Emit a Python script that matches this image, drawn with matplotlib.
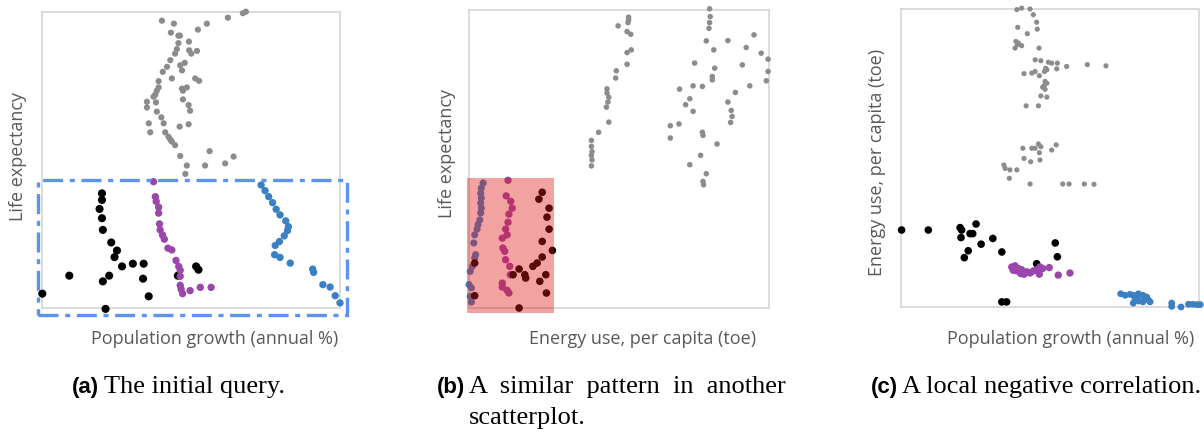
import numpy as np
import matplotlib
matplotlib.use("Agg")
import matplotlib.pyplot as plt
from matplotlib.patches import Rectangle

# colours of the four groups
GRAY = "#8c8c8c"
BLACK = "#000000"
PURPLE = "#9a46aa"
BLUE = "#3a80c2"
LABEL = "#595959"

# ---- panel (a): population growth vs life expectancy ----
a_gray = [(68, 99), (67, 98.5), (62, 97), (55, 95), (52, 93), (40, 96), (44, 95),
          (43, 92), (45.5, 91), (46, 91), (49, 89), (45.5, 88.5), (45, 86.5),
          (49.1, 86.1), (49.8, 85), (51.7, 85.9), (44.4, 85), (42.8, 82.8),
          (47.6, 81.9), (46.1, 81.1), (46.7, 79.4), (41.7, 80.6), (40.3, 78.9),
          (43.3, 76.7), (51.1, 76.7), (52.4, 75.9), (38.9, 75.8), (38.9, 73.7),
          (38.3, 72.6), (37.8, 71.3), (37.2, 70.6), (46.7, 73.3), (48.3, 73.7),
          (47, 72.6), (35, 68.9), (35, 67), (38, 68.7), (47, 69.7), (48.9, 67.8),
          (49.4, 65.9), (38.3, 65.6), (39.8, 63.7), (35.6, 61.7), (40.6, 61.7),
          (45.9, 60.6), (48.9, 61.4), (36.1, 58.7), (41.1, 58.7), (42.2, 57.2),
          (42.8, 56.3), (43.3, 55.6), (44.4, 54.4), (55.9, 52.4), (46.1, 50.8),
          (63.9, 50.6), (61.1, 48.3), (48.3, 47.6), (54.4, 47.6), (47.8, 44.8)]
a_black = [(20, 38.3), (20, 36.1), (19.2, 33.1), (20, 30), (20.3, 26.1), (23.1, 21.9),
           (25, 19.2), (24.2, 17), (26.7, 13.9), (30.3, 14.8), (33.9, 14.8),
           (9.1, 10.8), (22.4, 10.8), (20.3, 8.9), (33.7, 9.8), (45.3, 10.8),
           (51.4, 13.9), (52.2, 12.8), (0.1, 4.8), (35.6, 3.9), (21.2, -0.3)]
a_purple = [(37.2, 42.2), (37.8, 37.2), (38.1, 35.6), (38.9, 33.7), (38.9, 31.7),
            (39.2, 28.1), (39.4, 26.1), (40.2, 24.4), (40.8, 23), (42, 20),
            (43.3, 19.4), (44.7, 15.9), (45.6, 13.9), (46.1, 12.6), (46.1, 10.6),
            (46.1, 7.6), (46.4, 6.3), (46.9, 4.8), (49.4, 5.8), (52.8, 6.9), (56.4, 6.9)]
a_blue = [(73.1, 41.1), (74.4, 39.2), (75.6, 37.2), (76.9, 35.2), (78.1, 33),
          (79.4, 31.1), (81.3, 29.1), (82.2, 27.2), (81.9, 25.9), (80.8, 24.1),
          (79.2, 22.2), (77.8, 20.9), (77.6, 17.8), (79.4, 16.9), (82.8, 15),
          (90.3, 13), (90.6, 11.9), (93.7, 7.8), (96.1, 7), (97.8, 4.1), (99.4, 1.7)]

# ---- panel (b): energy use vs life expectancy ----
b_gray = [(53.2, 97), (53.2, 96.1), (53, 95.2), (49.7, 94.1), (52.7, 92.2), (53.9, 91.3),
          (54.1, 86.1), (52.7, 85.2), (52.7, 81.3), (49.1, 79.1), (48.9, 76.7),
          (46, 73.1), (46, 71.7), (46.6, 70.3), (46.3, 68.7), (45.8, 67), (46.6, 62),
          (43.2, 58.6), (40.8, 55.9), (40.8, 53.9), (41, 52.2), (40.8, 50.9),
          (41, 49.4), (40.8, 47.4),
          (80.2, 99.8), (80.4, 97.2), (80.2, 95.2), (80, 93.3), (79.1, 89.1),
          (81.6, 86.1), (86.3, 89.2), (95, 91.1), (92.4, 86.9), (97.4, 85),
          (99.7, 83), (91.1, 81.1), (99.7, 78.9), (99.1, 75.8), (75.2, 81.7),
          (81.9, 80), (81.1, 77.2), (81.1, 76.1), (74.7, 74.1), (77.8, 73.9),
          (70.2, 73), (93.6, 74.1), (88.8, 71.9), (73.6, 69.8), (86.3, 68.7),
          (72.2, 67.8), (74.7, 65.6), (87.4, 65.9), (87.7, 63.9), (87.2, 61.9),
          (67.1, 60.8), (70, 61.4), (67.1, 56.7), (77.8, 58.6), (78, 57.6),
          (82.7, 54.7), (77.2, 50.9), (73.6, 47.8), (79.1, 44.8), (78, 42.2), (78.2, 41.1)]
b_blue = [(4.7, 41.7), (4.1, 40), (3.9, 38.3), (4.1, 36.7), (3.9, 35), (4.1, 33.3),
          (3.9, 31.7), (3.6, 29.4), (3, 27.8), (2.7, 26.3), (1.9, 24.4), (1.6, 21.7),
          (2.2, 17.8), (1.9, 16.7), (1.1, 13.9), (0.4, 12.2), (0, 7.8), (0.8, 6.7),
          (0.4, 3.9), (0.8, 2)]
b_purple = [(13, 42.6), (12.4, 37.4), (13.9, 35.6), (14.4, 33.3), (13.3, 31.3),
            (13, 28.6), (12.2, 26.3), (12.7, 24.4), (11.1, 23.3), (11.3, 20),
            (11.9, 18.9), (12.2, 16.1), (13.6, 13.9), (13.8, 11.1), (11.1, 8.3),
            (11.1, 7), (12.7, 5.9), (13.3, 5)]
b_black = [(24.4, 38.6), (23.3, 36.3), (26.7, 33.3), (26, 30.3), (26.7, 26.3),
           (24.4, 22.2), (27.8, 19.2), (24.4, 17), (22.7, 15), (21.3, 13.9),
           (16.7, 13), (14.7, 11.1), (18.6, 11.1), (18.9, 10), (25.6, 11.1),
           (23.6, 8.9), (1.9, 15), (1.9, 4.1), (25.8, 5), (16.7, 0)]

# ---- panel (c): population growth vs energy use ----
c_gray = [(38.6, 98.9), (40.2, 99.4), (43, 99.1), (44.1, 97.2), (45.2, 94.7),
          (45.4, 92.4), (38.9, 93), (42.1, 90.9), (38.3, 88.3), (39.1, 87.8),
          (40.2, 86.9), (38, 86.1), (38.8, 87.2), (46, 86.1), (44.7, 82.2),
          (46.6, 81.9), (49.1, 81.4), (50.2, 81.1), (52.1, 81.1), (55.2, 80),
          (62.1, 80.6), (68.3, 80.2), (48.2, 79.4), (51.9, 79.2), (48.6, 78.9),
          (47.8, 78.3), (41, 77.6), (43.6, 77.8), (44.7, 78.3), (46.1, 76.9),
          (48, 75), (48.6, 74.4), (47.7, 73.6), (47.2, 73.1), (48, 72.4),
          (46.6, 70.2), (48.6, 69.8), (41.7, 66.9), (45.8, 66.9), (40.6, 52.8),
          (43.6, 52.8), (45.8, 54.2), (46.6, 53.3), (44.7, 52.8), (51.7, 53.9),
          (50.2, 52.2), (46.1, 51.3), (41, 49.4), (43.2, 48.3), (46.3, 48.9),
          (34.3, 47.2), (34.7, 46.1), (36.3, 45.6), (38.6, 45.6), (36.1, 42.8),
          (43, 40.9), (53.9, 40.9), (56, 40.9), (61.1, 40.9), (64.3, 40.8)]
c_black = [(0.2, 25.6), (9.1, 25.6), (19.7, 26.4), (20.2, 25.6), (25, 27.6),
           (23.9, 24.4), (23, 24.4), (20, 23.1), (30.6, 22.8), (26.7, 20.9),
           (22.4, 18.7), (33.6, 18.3), (21.1, 16.4), (51.4, 21.3), (52.1, 16.7),
           (45.2, 14.4), (33.6, 1.7), (35.2, 1.7)]
c_purple = [(36.9, 13.3), (38, 13.7), (39.1, 12.8), (37.4, 12.2), (38.6, 12),
            (39.9, 11.1), (41, 10.9), (41.9, 11.7), (43, 11.3), (44.1, 12),
            (45.4, 12.4), (46.3, 13.3), (47.2, 12.8), (46.1, 10.9), (49.4, 13.1),
            (52.4, 10.6), (56.3, 11.3), (40.2, 12.4), (41.3, 11.3)]
c_blue = [(73.2, 4.4), (74.7, 3.9), (76.3, 4.2), (77.4, 3.9), (79.1, 4.4), (80.6, 3.9),
          (81.9, 3.3), (82.4, 2.4), (83, 1.7), (78, 2.4), (79.1, 2), (80.6, 1.7),
          (77.4, 1.3), (81.3, 2.6), (78.8, 3), (90.2, 1.3), (90.2, 0.2), (93.3, 0),
          (95.8, 0.9), (97.2, 0.9), (98.6, 0.8), (99.7, 0.8)]

W, H = 1204, 436


def px_axes(fig, l, t, r, b):
    return fig.add_axes([l / W, 1 - b / H, (r - l) / W, (b - t) / H])


def style(ax, xmax, ymax):
    ax.set_xlim(0, xmax)
    ax.set_ylim(0, ymax)
    ax.set_xticks([])
    ax.set_yticks([])
    for s in ax.spines.values():
        s.set_color("#d6d6d6")
        s.set_linewidth(1.2)


def dots(ax, pts, color, size, z=3):
    p = np.array(pts)
    ax.scatter(p[:, 0], p[:, 1], s=size, color=color, edgecolors="none",
               clip_on=False, zorder=z)


fig = plt.figure(figsize=(W / 100, H / 100), dpi=100)

# (a)
ax = px_axes(fig, 42, 12, 340, 308)
style(ax, 99.4, 98.9)
dots(ax, a_gray, GRAY, 20)
dots(ax, a_black, BLACK, 34)
dots(ax, a_purple, PURPLE, 28)
dots(ax, a_blue, BLUE, 28)
ax.add_patch(Rectangle((-1.4, -2.2), 103.1, 45.0, fill=False, edgecolor="#5b93ee",
                       linewidth=2.4, linestyle=(0, (6, 2, 1.5, 2)), clip_on=False, zorder=4))

# (b)
ax = px_axes(fig, 469, 10, 769, 308)
style(ax, 100, 99.4)
dots(ax, b_gray, GRAY, 16)
dots(ax, b_blue, BLUE, 26)
dots(ax, b_purple, PURPLE, 28)
dots(ax, b_black, BLACK, 30)
ax.add_patch(Rectangle((-0.6, -1.7), 28.9, 45.0, facecolor=(0.89, 0.09, 0.09), alpha=0.4,
                       edgecolor="none", clip_on=False, zorder=5))

# (c)
ax = px_axes(fig, 901, 9, 1199, 307)
style(ax, 99.3, 99.1)
dots(ax, c_gray, GRAY, 14)
dots(ax, c_black, BLACK, 30)
dots(ax, c_purple, PURPLE, 28)
dots(ax, c_blue, BLUE, 24)

# axis labels
lab = dict(color=LABEL, fontsize=13, family="Open Sans", ha="center", va="center")
fig.text(18 / W, 1 - 156 / H, "Life expectancy", rotation=90, **lab)
fig.text(447 / W, 1 - 154 / H, "Life expectancy", rotation=90, **lab)
fig.text(877 / W, 1 - 162 / H, "Energy use, per capita (toe)", rotation=90, **lab)
fig.text(215 / W, 1 - 339 / H, "Population growth (annual %)", **lab)
fig.text(643 / W, 1 - 339 / H, "Energy use, per capita (toe)", **lab)
fig.text(1071 / W, 1 - 339 / H, "Population growth (annual %)", **lab)

# captions
tag = dict(fontsize=16, family="Liberation Sans", weight="bold", va="baseline", ha="right")
cap = dict(fontsize=19, family="Liberation Serif", va="baseline", ha="left")
fig.text(99 / W, 1 - 393 / H, "(a)", **tag)
fig.text(104 / W, 1 - 393 / H, "The initial query.", **cap)
fig.text(465 / W, 1 - 393 / H, "(b)", **tag)
fig.text(469 / W, 1 - 393 / H, "A  similar  pattern  in  another", **cap)
fig.text(469 / W, 1 - 424 / H, "scatterplot.", **cap)
fig.text(898 / W, 1 - 393 / H, "(c)", **tag)
fig.text(902 / W, 1 - 393 / H, "A local negative correlation.", **cap)

fig.savefig("out.png", dpi=100, facecolor="white")
